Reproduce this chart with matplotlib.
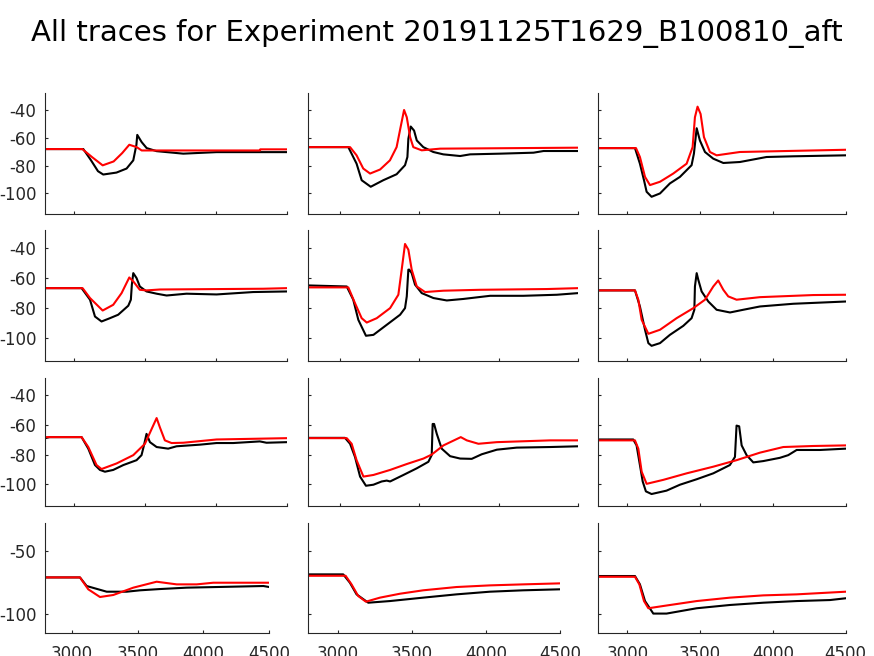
import matplotlib
matplotlib.use("Agg")
import matplotlib.pyplot as plt

plt.rcParams['axes.unicode_minus'] = False

title = "All traces for Experiment 20191125T1629_B100810_aft"

# row 1
p11_bx = [2800, 3067, 3120, 3170, 3207, 3300, 3371, 3418, 3440, 3446, 3477, 3512, 3582, 3769, 4003, 4500]
p11_by = [-68.1, -68.1, -76, -84, -86.4, -85, -82.1, -76.2, -65, -57.9, -63.1, -67.4, -69.6, -71.4, -70.3, -70.3]
p11_rx = [2800, 3060, 3130, 3203, 3280, 3340, 3390, 3442, 3477, 3700, 4308, 4310, 4500]
p11_ry = [-68.1, -68.1, -74, -79.8, -77, -71, -65, -66.7, -69.1, -69.1, -69.1, -68.3, -68.3]

p12_bx = [2800, 3052, 3104, 3136, 3193, 3272, 3356, 3409, 3424, 3430, 3445, 3466, 3483, 3524, 3587, 3650,
          3756, 3819, 4008, 4218, 4281, 4500]
p12_by = [-66.7, -66.7, -78.6, -90.5, -95.2, -90.5, -86.2, -79.7, -73.8, -60.7, -51.9, -54.8, -61.9, -66.7,
          -70.2, -71.9, -73.1, -71.9, -71.4, -70.7, -69.5, -69.5]
p12_rx = [2800, 3063, 3104, 3146, 3189, 3252, 3314, 3356, 3381, 3403, 3420, 3441, 3461, 3514, 3630, 4500]
p12_ry = [-66.7, -66.7, -72.6, -82.1, -85.7, -82.8, -76.2, -66.7, -52.4, -40, -45.2, -59.5, -66.7, -69,
          -67.8, -67.1]

p13_bx = [2800, 3052, 3086, 3114, 3132, 3166, 3224, 3292, 3361, 3441, 3457, 3476, 3498, 3533, 3590, 3659,
          3773, 3956, 4140, 4500]
p13_by = [-67.4, -67.4, -78.6, -90.5, -98.8, -102.4, -100, -92.8, -88.1, -79.7, -71.4, -53.1, -61.9, -70.2,
          -75, -78.1, -77.4, -73.8, -73.3, -72.6]
p13_rx = [2800, 3059, 3086, 3121, 3155, 3224, 3315, 3407, 3448, 3464, 3482, 3503, 3526, 3567, 3613, 3773, 4500]
p13_ry = [-67.4, -67.4, -73.8, -88.1, -94, -91.6, -85.7, -78.6, -66.7, -45.2, -37.6, -42.9, -59.5, -70.2,
          -72.6, -70.2, -68.6]

# row 2
p21_bx = [2800, 3055, 3114, 3149, 3195, 3254, 3312, 3383, 3401, 3408, 3418, 3441, 3464, 3511, 3582, 3652,
          3792, 4003, 4260, 4500]
p21_by = [-66.7, -66.7, -74.4, -85.6, -88.9, -86.7, -84.4, -78.4, -74.4, -64.4, -56.7, -60, -65.6, -68.9,
          -70.4, -71.6, -70.4, -70.9, -69.3, -68.9]
p21_rx = [2800, 3062, 3114, 3203, 3277, 3336, 3390, 3418, 3464, 3511, 3605, 4330, 4500]
p21_ry = [-66.7, -66.7, -73.3, -81.6, -77.8, -70, -59.6, -62.2, -67.8, -68.2, -67.6, -67.1, -66.7]

p22_bx = [2800, 3042, 3083, 3115, 3163, 3210, 3294, 3378, 3409, 3420, 3430, 3436, 3451, 3472, 3514, 3588,
          3672, 3776, 3945, 4154, 4365, 4500]
p22_by = [-64.9, -65.6, -74.4, -87.8, -98.4, -97.8, -91.1, -84.4, -80, -72.2, -54.4, -54.4, -56.7, -64.4,
          -70, -73.3, -74.9, -73.9, -71.8, -71.8, -71.1, -70]
p22_rx = [2800, 3052, 3094, 3136, 3168, 3231, 3315, 3367, 3388, 3409, 3430, 3451, 3483, 3535, 3651, 3882,
          4302, 4500]
p22_ry = [-66.2, -66.2, -76.7, -86.7, -89.6, -86.7, -80, -71.1, -54.4, -37.3, -41.1, -54.4, -65.6, -69.3,
          -68.4, -67.8, -67.3, -66.7]

p23_bx = [2800, 3052, 3086, 3121, 3144, 3166, 3224, 3292, 3384, 3441, 3460, 3464, 3476, 3487, 3510, 3556,
          3613, 3705, 3796, 3911, 4140, 4500]
p23_by = [-68.2, -68.2, -78.9, -94.4, -103.3, -105.1, -103.3, -97.8, -91.8, -86.7, -81.1, -65.6, -56.7,
          -61.1, -68.9, -75.6, -81.1, -82.9, -81.1, -78.9, -77.1, -75.6]
p23_rx = [2800, 3052, 3075, 3098, 3144, 3224, 3338, 3453, 3533, 3590, 3624, 3659, 3693, 3750, 3911, 4277, 4500]
p23_ry = [-68.2, -68.2, -74.4, -87.8, -97.1, -94.4, -86.7, -80, -74.4, -65.6, -61.6, -67.8, -72.2, -74.4,
          -72.7, -71.3, -71.1]

# row 3
p31_bx = [2800, 2830, 3055, 3102, 3149, 3184, 3219, 3277, 3348, 3441, 3476, 3493, 3511, 3535, 3582, 3663,
          3722, 3886, 4003, 4120, 4307, 4354, 4500]
p31_by = [-68.9, -68.2, -68.2, -76, -87.1, -90.4, -91.6, -90.4, -87.1, -83.8, -80.4, -73.8, -66, -71.6,
          -74.9, -76, -74.4, -73.3, -72.2, -72.2, -71.1, -72, -71.6]
p31_rx = [2800, 3055, 3102, 3160, 3195, 3301, 3418, 3500, 3547, 3582, 3605, 3640, 3687, 3769, 4003, 4500]
p31_ry = [-68.2, -68.2, -74.9, -87.1, -89.8, -86, -80.4, -72.7, -62.7, -55.3, -61.6, -70.4, -72.2, -72,
          -69.8, -68.9]

p32_bx = [2800, 3031, 3063, 3094, 3126, 3163, 3210, 3262, 3294, 3315, 3399, 3483, 3556, 3577, 3583, 3592,
          3609, 3640, 3693, 3756, 3829, 3892, 3987, 4112, 4323, 4500]
p32_by = [-68.7, -68.7, -72.7, -81.6, -94.9, -101.1, -100.4, -98.2, -97.6, -98.2, -93.8, -89.3, -84.9,
          -80.4, -59.3, -59.3, -66, -76, -81.1, -82.7, -82.9, -79.8, -76.7, -75.3, -74.9, -74.4]
p32_rx = [2800, 3042, 3073, 3104, 3147, 3210, 3315, 3420, 3525, 3577, 3651, 3760, 3798, 3871, 3987, 4323, 4500]
p32_ry = [-68.9, -68.9, -72.7, -83.8, -94.9, -93.8, -90.4, -86.4, -82.7, -80, -73.8, -68.2, -70.4, -72.7,
          -71.6, -70.4, -70.4]

p33_bx = [2800, 3040, 3063, 3086, 3105, 3127, 3166, 3269, 3361, 3476, 3590, 3704, 3739, 3750, 3768, 3785,
          3819, 3865, 3934, 4048, 4105, 4163, 4323, 4500]
p33_by = [-69.8, -69.8, -73.8, -87.1, -98.2, -104.9, -106.7, -104.4, -100.4, -96.7, -92.7, -87.1, -81.6,
          -60.4, -60.9, -73.8, -80.4, -85.3, -84.4, -82.2, -80.4, -76.9, -76.9, -76]
p33_rx = [2800, 3052, 3075, 3098, 3132, 3247, 3407, 3590, 3750, 3911, 4071, 4277, 4500]
p33_ry = [-70.4, -70.4, -76, -91.6, -99.8, -97.1, -92.7, -88.2, -83.8, -78.7, -74.9, -74.2, -73.8]

# row 4
p41_bx = [2800, 3063, 3114, 3266, 3417, 3519, 3670, 3873, 4100, 4455, 4500]
p41_by = [-70.8, -70.8, -77.6, -82.1, -82.1, -81, -80, -78.9, -78.4, -77.6, -78.4]
p41_rx = [2800, 3063, 3126, 3215, 3316, 3468, 3645, 3797, 3949, 4075, 4500]
p41_ry = [-70.8, -70.8, -80.2, -86.3, -84.7, -78.9, -74.2, -76.3, -76.3, -75, -75]

p42_bx = [2800, 3036, 3081, 3126, 3205, 3351, 3576, 3801, 4026, 4251, 4500]
p42_by = [-68.4, -68.4, -75, -84.2, -90.8, -89.5, -86.8, -84.2, -82.1, -81, -80.2]
p42_rx = [2800, 3052, 3092, 3137, 3189, 3284, 3419, 3576, 3801, 4026, 4251, 4500]
p42_ry = [-69.5, -69.5, -76.3, -85.5, -90, -86.8, -83.7, -81, -78.4, -77.1, -76.3, -75.5]

p43_bx = [2800, 3052, 3086, 3121, 3178, 3269, 3476, 3705, 3934, 4163, 4392, 4500]
p43_by = [-69.7, -69.7, -76.3, -89.5, -99.4, -99.4, -95.2, -92.6, -90.8, -89.5, -88.7, -87.3]
p43_rx = [2800, 3052, 3082, 3114, 3144, 3247, 3476, 3705, 3934, 4163, 4500]
p43_ry = [-70.3, -70.3, -76.3, -89.5, -95.2, -93.4, -89.5, -86.8, -85, -84.2, -82.1]

panels = [
    [(p11_bx, p11_by, p11_rx, p11_ry), (p12_bx, p12_by, p12_rx, p12_ry), (p13_bx, p13_by, p13_rx, p13_ry)],
    [(p21_bx, p21_by, p21_rx, p21_ry), (p22_bx, p22_by, p22_rx, p22_ry), (p23_bx, p23_by, p23_rx, p23_ry)],
    [(p31_bx, p31_by, p31_rx, p31_ry), (p32_bx, p32_by, p32_rx, p32_ry), (p33_bx, p33_by, p33_rx, p33_ry)],
    [(p41_bx, p41_by, p41_rx, p41_ry), (p42_bx, p42_by, p42_rx, p42_ry), (p43_bx, p43_by, p43_rx, p43_ry)],
]

# axes placement in pixels (top, bottom) per row, left per column, right per row/col
W, H = 874, 656
row_tb = [(93.3, 214.3), (230, 360.7), (377.7, 506.3), (523.3, 633.3)]
col_left = [45.3, 308.3, 598.3]
col_right = [[287.3, 578.3, 845.7]] * 3 + [[269.3, 560, 845.7]]

fig = plt.figure(figsize=(W / 100, H / 100), dpi=100)
fig.suptitle(title, fontsize=21, y=1 - 33 / H, va='center')

txt = '#262626'
for r in range(4):
    for c in range(3):
        top, bot = row_tb[r]
        left, right = col_left[c], col_right[r][c]
        ax = fig.add_axes([left / W, 1 - bot / H, (right - left) / W, (bot - top) / H])
        bx, by, rx, ry = panels[r][c]
        ax.plot(bx, by, color='black', lw=1.5)
        ax.plot(rx, ry, color='red', lw=1.5)
        ax.set_xlim(2800, 4500)
        ax.set_ylim(-115, -28)
        ax.set_xticks([3000, 3500, 4000, 4500])
        if r < 3:
            ax.set_yticks([-100, -80, -60, -40])
        else:
            ax.set_yticks([-100, -50])
        for s in ['top', 'right']:
            ax.spines[s].set_visible(False)
        for s in ['left', 'bottom']:
            ax.spines[s].set_color(txt)
            ax.spines[s].set_linewidth(0.8)
        ax.tick_params(direction='in', length=2.5, width=0.8, colors=txt,
                       labelsize=12)
        ax.tick_params(axis='y', pad=6.5)
        ax.tick_params(axis='x', pad=8.5)
        if c > 0:
            ax.set_yticklabels([])
        if r < 3:
            ax.set_xticklabels([])

fig.savefig('out.png', dpi=100)
